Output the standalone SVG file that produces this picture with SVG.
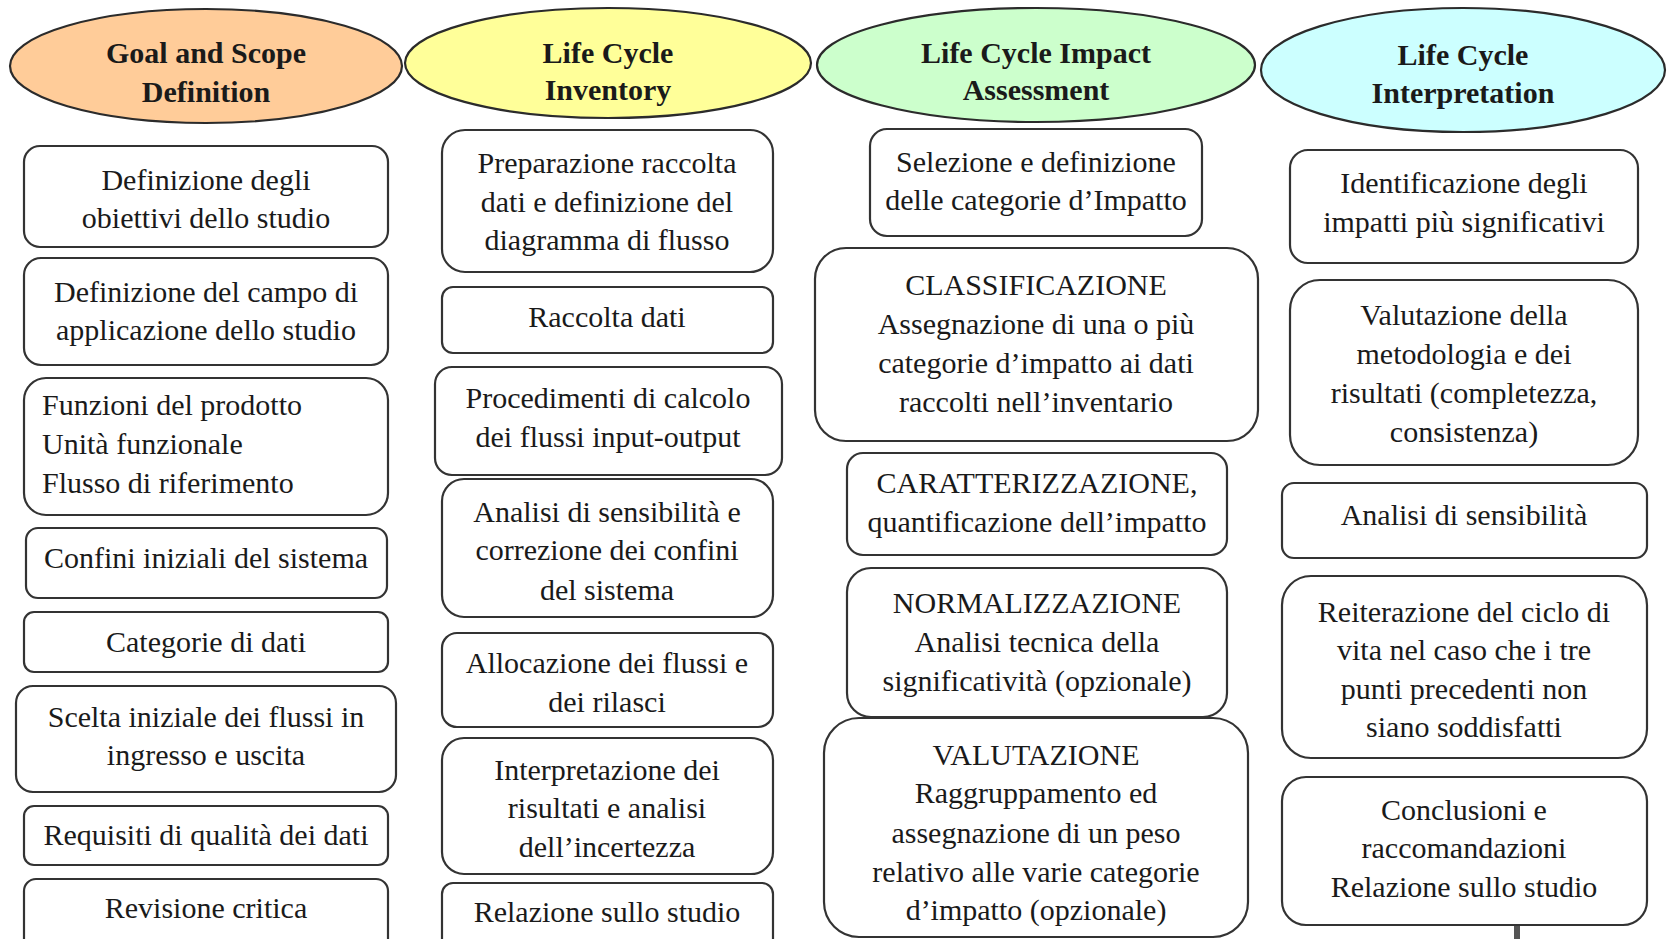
<svg xmlns="http://www.w3.org/2000/svg" width="1669" height="939" viewBox="0 0 1669 939">
<style>
.bg{fill:#ffffff}
.hd{stroke:#2b2b2b;stroke-width:2.2}
.bx{fill:#ffffff;stroke:#333333;stroke-width:2.2}
.ht{font-family:"Liberation Serif","DejaVu Serif",serif;font-weight:bold;font-size:30px;fill:#1a1a1a;text-anchor:middle}
.t{font-family:"Liberation Serif","DejaVu Serif",serif;font-size:30px;fill:#1a1a1a;text-anchor:middle}
.tl{text-anchor:start}
.cn{stroke:#555555;stroke-width:6;fill:none}
</style>
<rect class="bg" x="0" y="0" width="1669" height="939"/>

<g id="connectors">
<line class="cn" x1="1517" y1="925" x2="1517" y2="945"/>
</g>

<!-- Column 1 -->
<g id="goal-scope">
<ellipse class="hd" cx="206" cy="66" rx="196" ry="57" fill="#FFCC99"/>
<text class="ht" x="206" y="63">Goal and Scope</text>
<text class="ht" x="206" y="102">Definition</text>
</g>
<g id="g1"><rect class="bx" x="24" y="146" width="364" height="101" rx="16"/>
<text class="t" x="206" y="190">Definizione degli</text><text class="t" x="206" y="228">obiettivi dello studio</text></g>
<g id="g2"><rect class="bx" x="24" y="258" width="364" height="107" rx="17"/>
<text class="t" x="206" y="302">Definizione del campo di</text><text class="t" x="206" y="340">applicazione dello studio</text></g>
<g id="g3"><rect class="bx" x="24" y="378" width="364" height="137" rx="22"/>
<text class="t tl" x="42" y="415">Funzioni del prodotto</text><text class="t tl" x="42" y="454">Unità funzionale</text><text class="t tl" x="42" y="493">Flusso di riferimento</text></g>
<g id="g4"><rect class="bx" x="26" y="528" width="361" height="70" rx="12"/>
<text class="t" x="206" y="568">Confini iniziali del sistema</text></g>
<g id="g5"><rect class="bx" x="24" y="612" width="364" height="60" rx="10"/>
<text class="t" x="206" y="652">Categorie di dati</text></g>
<g id="g6"><rect class="bx" x="16" y="686" width="380" height="106" rx="17"/>
<text class="t" x="206" y="727">Scelta iniziale dei flussi in</text><text class="t" x="206" y="765">ingresso e uscita</text></g>
<g id="g7"><rect class="bx" x="24" y="806" width="364" height="59" rx="10"/>
<text class="t" x="206" y="845">Requisiti di qualità dei dati</text></g>
<g id="g8"><rect class="bx" x="24" y="879" width="364" height="75" rx="12"/>
<text class="t" x="206" y="918">Revisione critica</text></g>

<!-- Column 2 -->
<g id="inventory">
<ellipse class="hd" cx="608" cy="63" rx="203" ry="55" fill="#FFFF99"/>
<text class="ht" x="608" y="63">Life Cycle</text>
<text class="ht" x="608" y="100">Inventory</text>
</g>
<g id="i1"><rect class="bx" x="442" y="130" width="331" height="142" rx="23"/>
<text class="t" x="607" y="173">Preparazione raccolta</text><text class="t" x="607" y="212">dati e definizione del</text><text class="t" x="607" y="250">diagramma di flusso</text></g>
<g id="i2"><rect class="bx" x="442" y="287" width="331" height="66" rx="11"/>
<text class="t" x="607" y="327">Raccolta dati</text></g>
<g id="i3"><rect class="bx" x="435" y="367" width="347" height="108" rx="17"/>
<text class="t" x="608" y="408">Procedimenti di calcolo</text><text class="t" x="608" y="447">dei flussi input-output</text></g>
<g id="i4"><rect class="bx" x="442" y="479" width="331" height="138" rx="22"/>
<text class="t" x="607" y="522">Analisi di sensibilità e</text><text class="t" x="607" y="560">correzione dei confini</text><text class="t" x="607" y="600">del sistema</text></g>
<g id="i5"><rect class="bx" x="442" y="633" width="331" height="94" rx="15"/>
<text class="t" x="607" y="673">Allocazione dei flussi e</text><text class="t" x="607" y="712">dei rilasci</text></g>
<g id="i6"><rect class="bx" x="442" y="738" width="331" height="136" rx="22"/>
<text class="t" x="607" y="780">Interpretazione dei</text><text class="t" x="607" y="818">risultati e analisi</text><text class="t" x="607" y="857">dell’incertezza</text></g>
<g id="i7"><rect class="bx" x="442" y="883" width="331" height="70" rx="11"/>
<text class="t" x="607" y="922">Relazione sullo studio</text></g>

<!-- Column 3 -->
<g id="impact">
<ellipse class="hd" cx="1036" cy="65" rx="219" ry="57" fill="#CCFFCC"/>
<text class="ht" x="1036" y="63">Life Cycle Impact</text>
<text class="ht" x="1036" y="100">Assessment</text>
</g>
<g id="a1"><rect class="bx" x="870" y="129" width="332" height="107" rx="17"/>
<text class="t" x="1036" y="172">Selezione e definizione</text><text class="t" x="1036" y="210">delle categorie d’Impatto</text></g>
<g id="a2"><rect class="bx" x="815" y="248" width="443" height="193" rx="31"/>
<text class="t" x="1036" y="295">CLASSIFICAZIONE</text><text class="t" x="1036" y="334">Assegnazione di una o più</text><text class="t" x="1036" y="373">categorie d’impatto ai dati</text><text class="t" x="1036" y="412">raccolti nell’inventario</text></g>
<g id="a3"><rect class="bx" x="847" y="453" width="380" height="102" rx="16"/>
<text class="t" x="1037" y="493">CARATTERIZZAZIONE,</text><text class="t" x="1037" y="532">quantificazione dell’impatto</text></g>
<g id="a4"><rect class="bx" x="847" y="568" width="380" height="149" rx="24"/>
<text class="t" x="1037" y="613">NORMALIZZAZIONE</text><text class="t" x="1037" y="652">Analisi tecnica della</text><text class="t" x="1037" y="691">significatività (opzionale)</text></g>
<g id="a5"><rect class="bx" x="824" y="718" width="424" height="219" rx="35"/>
<text class="t" x="1036" y="765">VALUTAZIONE</text><text class="t" x="1036" y="803">Raggruppamento ed</text><text class="t" x="1036" y="843">assegnazione di un peso</text><text class="t" x="1036" y="882">relativo alle varie categorie</text><text class="t" x="1036" y="920">d’impatto (opzionale)</text></g>

<!-- Column 4 -->
<g id="interpretation">
<ellipse class="hd" cx="1463" cy="70" rx="202" ry="62" fill="#CCFFFF"/>
<text class="ht" x="1463" y="65">Life Cycle</text>
<text class="ht" x="1463" y="103">Interpretation</text>
</g>
<g id="p1"><rect class="bx" x="1290" y="150" width="348" height="113" rx="18"/>
<text class="t" x="1464" y="193">Identificazione degli</text><text class="t" x="1464" y="232">impatti più significativi</text></g>
<g id="p2"><rect class="bx" x="1290" y="280" width="348" height="185" rx="30"/>
<text class="t" x="1464" y="325">Valutazione della</text><text class="t" x="1464" y="364">metodologia e dei</text><text class="t" x="1464" y="403">risultati (completezza,</text><text class="t" x="1464" y="442">consistenza)</text></g>
<g id="p3"><rect class="bx" x="1282" y="483" width="365" height="75" rx="12"/>
<text class="t" x="1464" y="525">Analisi di sensibilità</text></g>
<g id="p4"><rect class="bx" x="1282" y="576" width="365" height="182" rx="29"/>
<text class="t" x="1464" y="622">Reiterazione del ciclo di</text><text class="t" x="1464" y="660">vita nel caso che i tre</text><text class="t" x="1464" y="699">punti precedenti non</text><text class="t" x="1464" y="737">siano soddisfatti</text></g>
<g id="p5"><rect class="bx" x="1282" y="777" width="365" height="148" rx="24"/>
<text class="t" x="1464" y="820">Conclusioni e</text><text class="t" x="1464" y="858">raccomandazioni</text><text class="t" x="1464" y="897">Relazione sullo studio</text></g>
</svg>
